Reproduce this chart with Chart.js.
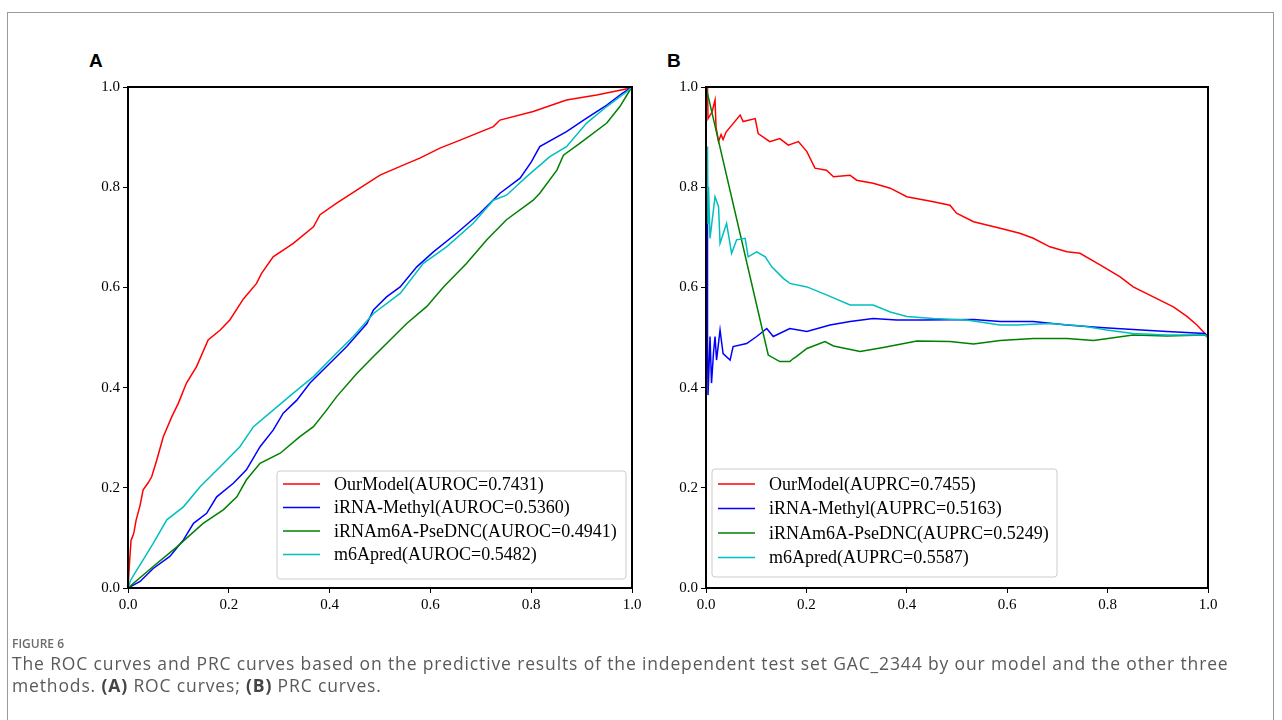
<!DOCTYPE html>
<html>
<head>
<meta charset="utf-8">
<script src="https://cdn.jsdelivr.net/npm/chart.js@4.4.1/dist/chart.umd.min.js"></script>
<style>
  html, body { margin: 0; padding: 0; background: #fff; }
  body { width: 1282px; height: 720px; position: relative; overflow: hidden; }
  #frame { position: absolute; left: 7px; top: 12px; width: 1267px; height: 760px; border: 1px solid #9a9a9a; box-sizing: border-box; }
  .panel { position: absolute; }
  .plabel { position: absolute; font-family: "Liberation Sans", Arial, sans-serif; font-weight: bold; font-size: 19px; color: #000; line-height: 1; }
  #figno { position: absolute; left: 12px; top: 635px; font-family: "Open Sans", "Noto Sans", sans-serif; font-size: 12px; font-weight: 600; color: #6b6b6b; letter-spacing: 0px; }
  #caption { position: absolute; left: 12px; top: 652px; font-family: "Open Sans", "Noto Sans", sans-serif; font-size: 17.5px; letter-spacing: 0.86px; color: #5a5a5a; line-height: 22px; white-space: nowrap; }
  #caption b { color: #444; }
</style>
</head>
<body>
<div id="frame"></div>
<div class="plabel" style="left:89px; top:51px;">A</div>
<div class="plabel" style="left:667px; top:51px;">B</div>
<canvas id="rocChart" class="panel" style="left:60px; top:60px;" width="590" height="580"></canvas>
<canvas id="prcChart" class="panel" style="left:650px; top:60px;" width="620" height="580"></canvas>
<div id="figno">FIGURE 6</div>
<div id="caption">The ROC curves and PRC curves based on the predictive results of the independent test set GAC_2344 by our model and the other three<br>methods. <b>(A)</b> ROC curves; <b>(B)</b> PRC curves.</div>
<script>
// ---------- Data ----------
const seriesNames = ["OurModel", "iRNA-Methyl", "iRNAm6A-PseDNC", "m6Apred"];
const rocAucs = ["0.7431", "0.5360", "0.4941", "0.5482"];
const prcAucs = ["0.7455", "0.5163", "0.5249", "0.5587"];
const axisTicks = [0.0, 0.2, 0.4, 0.6, 0.8, 1.0];

// ROC: false positive rate / true positive rate
const rocOurModelX = [0,0.003,0.006,0.010,0.012,0.016,0.020,0.024,0.030,0.040,0.047,0.057,0.070,0.087,0.100,0.116,0.136,0.159,0.183,0.202,0.229,0.255,0.265,0.288,0.328,0.368,0.381,0.414,0.460,0.500,0.546,0.579,0.619,0.659,0.725,0.738,0.804,0.870,0.930,0.993,1];
const rocOurModelY = [0,0.050,0.095,0.105,0.112,0.135,0.150,0.165,0.196,0.210,0.222,0.255,0.302,0.342,0.369,0.409,0.442,0.495,0.515,0.535,0.577,0.608,0.628,0.661,0.688,0.721,0.745,0.768,0.798,0.824,0.844,0.858,0.878,0.894,0.921,0.934,0.951,0.974,0.984,0.997,1];
const rocMethylX = [0,0.024,0.050,0.083,0.110,0.130,0.156,0.176,0.209,0.235,0.262,0.288,0.308,0.335,0.361,0.394,0.434,0.474,0.487,0.513,0.540,0.573,0.606,0.652,0.698,0.738,0.778,0.800,0.817,0.870,0.910,0.950,0.980,1];
const rocMethylY = [0,0.013,0.039,0.063,0.096,0.129,0.149,0.182,0.209,0.236,0.282,0.315,0.349,0.375,0.409,0.442,0.482,0.528,0.555,0.581,0.601,0.641,0.671,0.708,0.748,0.788,0.818,0.850,0.881,0.911,0.938,0.964,0.987,1];
const rocPseDNCX = [0,0.050,0.097,0.149,0.189,0.216,0.235,0.262,0.302,0.341,0.368,0.394,0.414,0.454,0.487,0.520,0.553,0.593,0.626,0.672,0.712,0.751,0.804,0.817,0.851,0.864,0.897,0.950,0.976,0.996,1];
const rocPseDNCY = [0,0.043,0.082,0.129,0.156,0.182,0.216,0.249,0.269,0.302,0.322,0.355,0.382,0.428,0.462,0.495,0.528,0.562,0.601,0.648,0.695,0.735,0.774,0.788,0.834,0.864,0.888,0.928,0.961,0.994,1];
const rocM6AX = [0,0.005,0.014,0.030,0.050,0.077,0.110,0.143,0.183,0.222,0.249,0.288,0.328,0.368,0.407,0.447,0.487,0.540,0.586,0.632,0.685,0.725,0.751,0.791,0.837,0.870,0.910,0.950,0.990,1];
const rocM6AY = [0,0.015,0.030,0.056,0.089,0.136,0.162,0.202,0.242,0.282,0.322,0.355,0.389,0.422,0.462,0.502,0.548,0.588,0.648,0.681,0.728,0.774,0.784,0.821,0.861,0.881,0.928,0.961,0.991,1];

// PRC: recall / precision
const prcOurModelX = [0,0.003,0.004,0.012,0.018,0.020,0.025,0.030,0.034,0.040,0.068,0.074,0.098,0.104,0.127,0.147,0.164,0.184,0.201,0.217,0.240,0.254,0.287,0.300,0.333,0.367,0.400,0.453,0.486,0.499,0.533,0.586,0.625,0.652,0.685,0.719,0.745,0.785,0.825,0.851,0.891,0.931,0.958,0.978,0.994,1];
const prcOurModelY = [1.0,1.0,0.937,0.950,0.974,0.920,0.891,0.905,0.895,0.910,0.944,0.931,0.937,0.907,0.891,0.897,0.884,0.891,0.871,0.838,0.834,0.821,0.824,0.814,0.808,0.798,0.781,0.771,0.764,0.748,0.731,0.718,0.708,0.698,0.681,0.671,0.668,0.645,0.621,0.601,0.581,0.561,0.542,0.525,0.508,0.500];
const prcMethylX = [0.002,0.003,0.003,0.004,0.006,0.008,0.011,0.015,0.018,0.021,0.028,0.034,0.048,0.054,0.081,0.101,0.121,0.134,0.167,0.201,0.247,0.287,0.333,0.380,0.433,0.533,0.586,0.652,0.719,0.785,0.851,0.918,0.994,1];
const prcMethylY = [0.790,0.700,0.500,0.385,0.440,0.502,0.409,0.470,0.502,0.455,0.515,0.468,0.455,0.482,0.488,0.502,0.518,0.502,0.518,0.512,0.525,0.532,0.538,0.535,0.535,0.536,0.532,0.532,0.525,0.520,0.516,0.512,0.508,0.500];
const prcPseDNCX = [0,0.124,0.147,0.167,0.174,0.180,0.201,0.237,0.254,0.307,0.353,0.420,0.486,0.533,0.586,0.652,0.719,0.772,0.851,0.918,0.994,1];
const prcPseDNCY = [1.0,0.465,0.452,0.452,0.458,0.462,0.478,0.492,0.483,0.472,0.480,0.493,0.492,0.487,0.494,0.498,0.498,0.494,0.505,0.503,0.505,0.500];
const prcM6AX = [0.003,0.004,0.005,0.008,0.018,0.025,0.028,0.041,0.051,0.061,0.078,0.084,0.101,0.118,0.131,0.154,0.167,0.201,0.240,0.287,0.333,0.367,0.400,0.453,0.519,0.586,0.619,0.685,0.751,0.798,0.851,0.918,0.994,1];
const prcM6AY = [0.881,0.728,0.801,0.698,0.781,0.761,0.688,0.728,0.668,0.695,0.698,0.661,0.671,0.661,0.641,0.618,0.608,0.601,0.585,0.565,0.565,0.551,0.542,0.538,0.535,0.525,0.525,0.528,0.523,0.515,0.508,0.505,0.505,0.500];

const colors = ["#ff0000", "#0000ff", "#008000", "#00bfbf"];

// ---------- Helpers ----------
function pts(xs, ys) { return xs.map((x, i) => ({ x: x, y: ys[i] })); }

function makeDatasets(list, aucs, kind) {
  return list.map((pair, i) => ({
    label: seriesNames[i] + "(" + kind + "=" + aucs[i] + ")",
    data: pts(pair[0], pair[1]),
    borderColor: colors[i],
    backgroundColor: colors[i],
    borderWidth: 1.5,
    pointRadius: 0,
    showLine: true,
    tension: 0,
    order: 3 - i
  }));
}

const boxPlugin = {
  id: "boxPlugin",
  afterDatasetsDraw(chart) {
    const a = chart.chartArea, ctx = chart.ctx;
    ctx.save();
    ctx.strokeStyle = "#000";
    ctx.lineWidth = 2;
    ctx.strokeRect(a.left, a.top, a.right - a.left, a.bottom - a.top);
    ctx.restore();
  }
};

const insideLegend = {
  id: "insideLegend",
  afterDraw(chart, args, opts) {
    const a = chart.chartArea, ctx = chart.ctx;
    const w = opts.width, h = opts.height;
    let left = opts.anchor === "right" ? a.right - opts.offX - w : a.left + opts.offX;
    let top = a.bottom - opts.offY - h;
    ctx.save();
    ctx.beginPath();
    const r = 3;
    ctx.moveTo(left + r, top);
    ctx.lineTo(left + w - r, top); ctx.quadraticCurveTo(left + w, top, left + w, top + r);
    ctx.lineTo(left + w, top + h - r); ctx.quadraticCurveTo(left + w, top + h, left + w - r, top + h);
    ctx.lineTo(left + r, top + h); ctx.quadraticCurveTo(left, top + h, left, top + h - r);
    ctx.lineTo(left, top + r); ctx.quadraticCurveTo(left, top, left + r, top);
    ctx.closePath();
    ctx.fillStyle = "rgba(255,255,255,0.85)";
    ctx.fill();
    ctx.strokeStyle = "#cccccc";
    ctx.lineWidth = 1;
    ctx.stroke();
    ctx.font = "18px 'Liberation Serif', 'Times New Roman', serif";
    ctx.textBaseline = "middle";
    ctx.textAlign = "left";
    chart.data.datasets.forEach((ds, i) => {
      const y = top + opts.firstRow + i * opts.rowGap;
      ctx.strokeStyle = ds.borderColor;
      ctx.lineWidth = 1.5;
      ctx.beginPath();
      ctx.moveTo(left + 6, y);
      ctx.lineTo(left + 43, y);
      ctx.stroke();
      ctx.fillStyle = "#000";
      ctx.fillText(ds.label, left + 57, y + 1);
    });
    ctx.restore();
  }
};

function axisOpts(isY, fixedSize) {
  return {
    type: "linear",
    min: 0, max: 1,
    afterBuildTicks(scale) { scale.ticks = axisTicks.map(v => ({ value: v })); },
    afterFit(scale) { if (isY) scale.width = fixedSize; else scale.height = fixedSize; },
    border: { display: false },
    grid: { display: true, drawOnChartArea: false, drawTicks: true, tickLength: 5, color: "#000", tickColor: "#000", lineWidth: 1 },
    ticks: {
      color: "#000",
      padding: 3,
      maxRotation: 0,
      autoSkip: false,
      font: { family: "'Liberation Serif', 'Times New Roman', serif", size: 15 },
      callback: v => Number(v).toFixed(1)
    }
  };
}

function makeChart(id, datasets, yWidth, padRight, legendOpts) {
  return new Chart(document.getElementById(id), {
    type: "scatter",
    data: { datasets: datasets },
    options: {
      responsive: false,
      animation: false,
      events: [],
      layout: { padding: { left: 0, right: padRight, top: 27, bottom: 22 } },
      scales: { x: axisOpts(false, 30), y: axisOpts(true, yWidth) },
      plugins: { legend: { display: false }, tooltip: { enabled: false }, insideLegend: legendOpts }
    },
    plugins: [boxPlugin, insideLegend]
  });
}

makeChart("rocChart",
  makeDatasets([[rocOurModelX, rocOurModelY], [rocMethylX, rocMethylY], [rocPseDNCX, rocPseDNCY], [rocM6AX, rocM6AY]], rocAucs, "AUROC"),
  68, 18,
  { anchor: "right", offX: 6, offY: 9, width: 349, height: 108, firstRow: 13, rowGap: 23.5 });

makeChart("prcChart",
  makeDatasets([[prcOurModelX, prcOurModelY], [prcMethylX, prcMethylY], [prcPseDNCX, prcPseDNCY], [prcM6AX, prcM6AY]], prcAucs, "AUPRC"),
  56, 62,
  { anchor: "left", offX: 6, offY: 11, width: 345, height: 108, firstRow: 15, rowGap: 24.5 });
</script>
</body>
</html>
